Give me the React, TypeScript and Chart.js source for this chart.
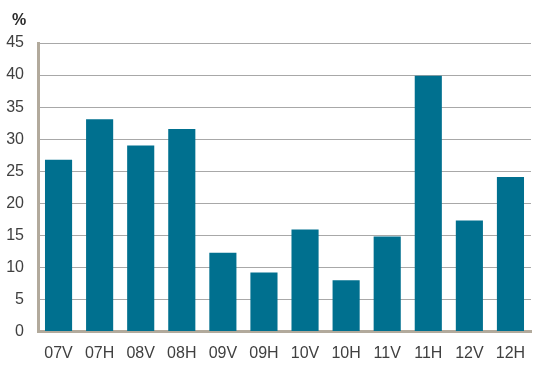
import React, { useEffect, useRef } from "react";
import { Chart, registerables } from "chart.js";

Chart.register(...registerables);

const categories = ["07V", "07H", "08V", "08H", "09V", "09H", "10V", "10H", "11V", "11H", "12V", "12H"];
const values = [26.8, 33.1, 29.0, 31.6, 12.3, 9.2, 15.9, 8.0, 14.8, 39.9, 17.3, 24.1];
const yTicks = [0, 5, 10, 15, 20, 25, 30, 35, 40, 45];
const unitLabel = "%";

const FONT = "'Liberation Sans', Arial, sans-serif";

export default function App() {
  const ref = useRef<HTMLCanvasElement | null>(null);

  useEffect(() => {
    document.body.style.margin = "0";
    const canvas = ref.current;
    if (!canvas) return;
    const unitPlugin = {
      id: "unitLabel",
      afterDraw(chart: any) {
        const ctx = chart.ctx;
        ctx.save();
        ctx.font = `bold 16px ${FONT}`;
        ctx.fillStyle = "#2a2a2a";
        ctx.textAlign = "left";
        ctx.textBaseline = "alphabetic";
        ctx.fillText(unitLabel, 12, 25);
        ctx.restore();
      },
    };
    const chart = new Chart(canvas, {
      type: "bar",
      data: {
        labels: categories,
        datasets: [
          {
            data: values,
            backgroundColor: "#00708f",
            borderWidth: 0,
            barPercentage: 0.66,
            categoryPercentage: 1,
          },
        ],
      },
      options: {
        animation: false,
        responsive: false,
        maintainAspectRatio: false,
        layout: { padding: { top: 43, right: 26, bottom: 0, left: 0 } },
        plugins: { legend: { display: false }, tooltip: { enabled: false } },
        scales: {
          x: {
            grid: { display: false, drawTicks: false },
            border: { display: true, color: "#b2aa9c", width: 3 },
            ticks: { color: "#404040", font: { family: FONT, size: 16 }, padding: 12 },
            afterFit: (s: any) => {
              s.height = 44.5;
            },
          },
          y: {
            min: 0,
            max: 45,
            afterBuildTicks: (s: any) => {
              s.ticks = yTicks.map((v) => ({ value: v }));
            },
            grid: { color: "#a8a8a8", lineWidth: 1, drawTicks: false },
            border: { display: true, color: "#b2aa9c", width: 3 },
            ticks: { color: "#404040", font: { family: FONT, size: 16 }, padding: 14 },
            afterFit: (s: any) => {
              s.width = 38;
            },
          },
        },
      },
      plugins: [unitPlugin],
    });
    return () => chart.destroy();
  }, []);

  return (
    <div style={{ width: 557, height: 376 }}>
      <canvas ref={ref} width={557} height={376} style={{ display: "block" }} />
    </div>
  );
}
